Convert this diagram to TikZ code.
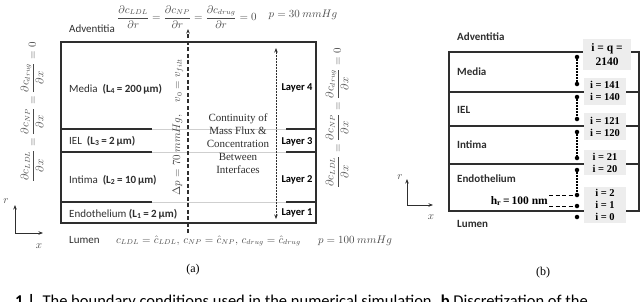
\documentclass[tikz,border=0pt]{standalone}
\usepackage{amsmath}
\usepackage{fontspec}
\setmainfont{Liberation Serif}
\setsansfont{Carlito}
\usetikzlibrary{arrows.meta, positioning, calc}
\definecolor{inkgray}{HTML}{2E2E2E}
\definecolor{eqgray}{HTML}{4A4A4A}
\definecolor{faintline}{HTML}{CFCFCF}
\definecolor{cellgray}{HTML}{EDEDED}

\begin{document}
\begin{tikzpicture}[
  x=1pt, y=-1pt,
  >={Stealth[length=4.5pt, width=3.5pt]},
  wall/.style={draw=inkgray, line width=1.2pt},
  layername/.style={font=\sffamily\fontsize{11}{13}\selectfont, text=inkgray,
    anchor=west, inner sep=0pt},
  layerbold/.style={layername, font=\sffamily\bfseries\fontsize{11}{13}\selectfont},
  layertag/.style={font=\sffamily\bfseries\fontsize{10.5}{12}\selectfont, inner sep=1pt},
  bceq/.style={font=\fontsize{10.5}{12}\selectfont, text=eqgray, inner sep=0pt},
  gridpt/.style={circle, fill=black, inner sep=0pt, minimum size=4.5pt},
  cellbox/.style={fill=cellgray, inner sep=0pt, minimum width=42pt, align=center,
    font=\bfseries\fontsize{10.5}{12}\selectfont},
  dotrun/.style={line width=1.3pt, dash pattern=on 1.2pt off 1.8pt},
  hrdash/.style={line width=1pt, dash pattern=on 4pt off 2.5pt},
  panel/.style={font=\fontsize{12}{14}\selectfont},
]

\useasboundingbox (0,0) rectangle (640,301);

% =============================================
% (a) Boundary conditions
% =============================================
\draw[wall] (61,42) rectangle (316,223);
\foreach \yy in {129,152,202} {
  \draw[wall] (61,\yy) -- (152,\yy);
  \draw[faintline, line width=0.6pt] (152,\yy) -- (286,\yy);
  \draw[wall] (286,\yy) -- (316,\yy);
}

% layer names
\node[layername] (advA) at (69,29) {Adventitia};
\node[layername] (mediaA) at (69,89) {Media \ \textbf{(L\textsubscript{4}\,= 200\,µm)}};
\node[layername] (ielA) at (69,141) {IEL \ \textbf{(L\textsubscript{3}\,= 2\,µm)}};
\node[layername] (intimaA) at (69,180) {Intima \ \textbf{(L\textsubscript{2}\,= 10\,µm)}};
\node[layername] (endoA) at (69,214) {Endothelium \textbf{(L\textsubscript{1}\,= 2\,µm)}};
\node[layername] (lumA) at (69,240) {Lumen};

% layer tags
\node[layertag] (lay4) at (297,88) {Layer 4};
\node[layertag] (lay3) at (297,142) {Layer 3};
\node[layertag] (lay2) at (297,180) {Layer 2};
\node[layertag] (lay1) at (297,213) {Layer 1};

% interface continuity
\node[font=\fontsize{11}{13}\selectfont, align=center, inner sep=0pt, text=inkgray]
  (continuity) at (238,144)
  {Continuity of\\Mass Flux \&\\Concentration\\Between\\Interfaces};

% filtration arrow
\coordinate (flowlo) at (188,233);
\coordinate (flowhi) at (188,29);
\draw[->, line width=1.2pt, inkgray, dash pattern=on 4pt off 2.5pt] (flowlo) -- (flowhi);
\node[bceq, rotate=90] (flowlbl) at (178,127)
  {$\Delta p = 70\ mmHg,\quad v_0 = v_{filt}$};

% continuity arrow
\coordinate (contlo) at (276,219);
\coordinate (conthi) at (276,48);
\draw[<->, line width=0.8pt, inkgray, dash pattern=on 2pt off 1pt] (contlo) -- (conthi);

% boundary equations
\node[bceq] (topbc) at (187,17)
  {$\dfrac{\partial c_{LDL}}{\partial r} = \dfrac{\partial c_{NP}}{\partial r}
    = \dfrac{\partial c_{drug}}{\partial r} = 0$};
\node[bceq] (topp) at (303,15) {$p = 30\ mmHg$};
\node[bceq, anchor=west] (lumbc) at (116,241)
  {$c_{LDL} = \hat{c}_{LDL},\, c_{NP} = \hat{c}_{NP},\, c_{drug} = \hat{c}_{drug}$};
\node[bceq] (lump) at (355,241) {$p = 100\ mmHg$};
\node[bceq, rotate=90] (leftbc) at (32,112)
  {$\dfrac{\partial c_{LDL}}{\partial x} = \dfrac{\partial c_{NP}}{\partial x}
    = \dfrac{\partial c_{drug}}{\partial x} = 0$};
\node[bceq, rotate=90] (rightbc) at (337,118)
  {$\dfrac{\partial c_{LDL}}{\partial x} = \dfrac{\partial c_{NP}}{\partial x}
    = \dfrac{\partial c_{drug}}{\partial x} = 0$};

% axes
\coordinate (axAr) at (15,205);
\coordinate (axAx) at (43,233);
\draw[<->, line width=1pt, inkgray] (axAr) |- (axAx);
\node[bceq] (axArlbl) at (6,201) {$r$};
\node[bceq] (axAxlbl) at (39,246) {$x$};

\node[panel] (capA) at (193,270) {(a)};

% =============================================
% (b) Discretization
% =============================================
\draw[wall] (449,52) rectangle (639,211);
\foreach \yy in {92,126,164}
  \draw[wall] (449,\yy) -- (639,\yy);

\node[layerbold] (advB) at (457,37) {Adventitia};
\node[layerbold] (mediaB) at (457,72) {Media};
\node[layerbold] (ielB) at (457,110) {IEL};
\node[layerbold] (intimaB) at (457,145) {Intima};
\node[layerbold] (endoB) at (457,179) {Endothelium};
\node[layerbold] (lumB) at (457,224) {Lumen};

% grid indices
\node[cellbox, minimum width=48pt, minimum height=31pt,
      font=\bfseries\fontsize{11.5}{14}\selectfont] (ib1) at (607,54.5) {i = q =\\2140};
\node[cellbox, minimum height=27pt] (ib2) at (605,91) {i = 141\\i = 140};
\node[cellbox, minimum height=27pt] (ib3) at (605,126.5) {i = 121\\i = 120};
\node[cellbox, minimum height=25pt] (ib4) at (605,162.5) {i = 21\\i = 20};
\node[cellbox, minimum height=36pt] (ib5) at (605,205) {i = 2\\i = 1\\i = 0};

% grid points
\foreach \nm/\yy in {dq/57, d141/84, d140/97, d121/119, d120/132,
                     d21/158, d20/170, d2/195, d1/206, d0/217}
  \node[gridpt] (\nm) at (577,\yy) {};
\draw[dotrun] (dq) -- (d141);
\draw[dotrun] (d140) -- (d121);
\draw[dotrun] (d120) -- (d21);
\draw[dotrun] (d20) -- (d2);

% first cell height
\node[font=\bfseries\fontsize{11.5}{13}\selectfont, inner sep=1pt, anchor=east]
  (hr) at (549,201) {h\textsubscript{r}\,=\,100 nm};
\draw[hrdash] (hr.east |- d2) -- (d2);
\draw[hrdash] (hr.east |- d1) -- (d1);

% axes
\coordinate (axBr) at (407,179);
\coordinate (axBx) at (433,205);
\draw[<->, line width=1pt, inkgray] (axBr) |- (axBx);
\node[bceq] (axBrlbl) at (400,177) {$r$};
\node[bceq] (axBxlbl) at (431,217) {$x$};

\node[panel] (capB) at (543,273) {(b)};

% caption, cut by the page edge
\begin{scope}
  \clip (0,0) rectangle (640,301);
  \node[font=\sffamily\fontsize{16.5}{18}\selectfont, anchor=base west, inner sep=0pt]
    (figcap) at (15,306)
    {\textbf{1 |} \ The boundary conditions used in the numerical simulation. \textbf{b} Discretization of the};
\end{scope}

\end{tikzpicture}
\end{document}
